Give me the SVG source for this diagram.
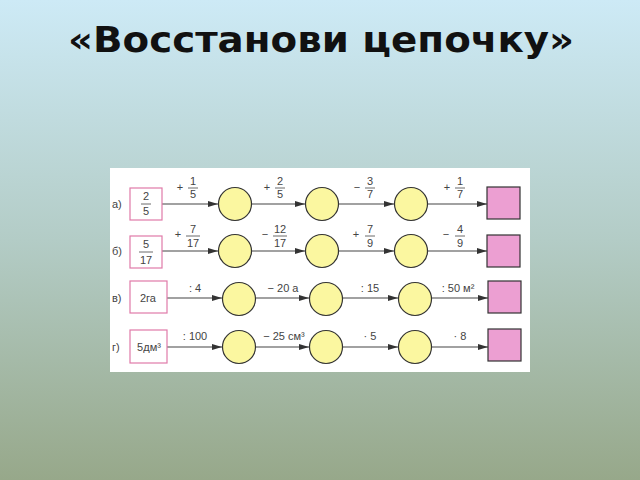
<svg xmlns="http://www.w3.org/2000/svg" width="640" height="480" viewBox="0 0 640 480">
<defs>
<linearGradient id="bg" x1="0" y1="0" x2="0" y2="1">
<stop offset="0" stop-color="#cdeaf6"/><stop offset="0.5" stop-color="#b3ccc6"/><stop offset="1" stop-color="#97a88a"/>
</linearGradient>
<marker id="ar" viewBox="0 0 10 6" refX="10" refY="3" markerWidth="10" markerHeight="6" orient="auto" markerUnits="userSpaceOnUse">
<path d="M0,0 L10,3 L0,6 z" fill="#333"/>
</marker>
<style>
text{font-family:"Liberation Sans",Arial,sans-serif;fill:#444}
.t{font-size:11px}
.s{fill:#fff;stroke:#e07aa8;stroke-width:1.2}
.c{fill:#fbf7a0;stroke:#333;stroke-width:1.2}
.f{fill:#ec9fd2;stroke:#333;stroke-width:1.2}
.l{stroke:#444;stroke-width:1.2;fill:none;marker-end:url(#ar)}
.b{stroke:#444;stroke-width:0.8}
</style>
</defs>
<rect width="640" height="480" fill="url(#bg)"/>
<text x="321" y="52" text-anchor="middle" textLength="506" lengthAdjust="spacingAndGlyphs" style="font-family:'DejaVu Sans',sans-serif;font-size:35px;font-weight:bold;fill:#111">«Восстанови цепочку»</text>
<rect x="110" y="168" width="420" height="204" fill="#fff"/>
<g id="connectors">
<path class="l" d="M162,204 H218"/><path class="l" d="M252,204 H305"/><path class="l" d="M339,204 H394"/><path class="l" d="M428,204 H487"/>
<path class="l" d="M162,251 H218"/><path class="l" d="M252,251 H305"/><path class="l" d="M339,251 H394"/><path class="l" d="M428,251 H487"/>
<path class="l" d="M167,298 H222"/><path class="l" d="M256,298 H309"/><path class="l" d="M343,298 H398"/><path class="l" d="M432,298 H488"/>
<path class="l" d="M167,347 H222"/><path class="l" d="M256,347 H309"/><path class="l" d="M343,347 H398"/><path class="l" d="M432,347 H488"/>
</g>
<g id="row-a">
<text class="t" x="112" y="208">а)</text>
<rect class="s" x="130" y="188" width="32" height="32"/>
<text class="t" x="146" y="200" text-anchor="middle">2</text><line class="b" x1="141" y1="204" x2="151" y2="204"/><text class="t" x="146" y="215" text-anchor="middle">5</text>
<circle class="c" cx="235" cy="204" r="16.5"/><circle class="c" cx="322" cy="204" r="16.5"/><circle class="c" cx="411" cy="204" r="16.5"/>
<rect class="f" x="487" y="187" width="33" height="32"/>
<text class="t" x="180" y="191" text-anchor="middle">+</text><text class="t" x="193" y="185" text-anchor="middle">1</text><line class="b" x1="188" y1="188" x2="198" y2="188"/><text class="t" x="193" y="198" text-anchor="middle">5</text>
<text class="t" x="267" y="191" text-anchor="middle">+</text><text class="t" x="280" y="185" text-anchor="middle">2</text><line class="b" x1="275" y1="188" x2="285" y2="188"/><text class="t" x="280" y="198" text-anchor="middle">5</text>
<text class="t" x="357" y="191" text-anchor="middle">−</text><text class="t" x="370" y="185" text-anchor="middle">3</text><line class="b" x1="365" y1="188" x2="375" y2="188"/><text class="t" x="370" y="198" text-anchor="middle">7</text>
<text class="t" x="447" y="191" text-anchor="middle">+</text><text class="t" x="460" y="185" text-anchor="middle">1</text><line class="b" x1="455" y1="188" x2="465" y2="188"/><text class="t" x="460" y="198" text-anchor="middle">7</text>
</g>
<g id="row-b">
<text class="t" x="112" y="255">б)</text>
<rect class="s" x="130" y="236" width="32" height="32"/>
<text class="t" x="146" y="248" text-anchor="middle">5</text><line class="b" x1="139" y1="252" x2="153" y2="252"/><text class="t" x="146" y="264" text-anchor="middle">17</text>
<circle class="c" cx="235" cy="251" r="16.5"/><circle class="c" cx="322" cy="251" r="16.5"/><circle class="c" cx="411" cy="251" r="16.5"/>
<rect class="f" x="487" y="235" width="33" height="32"/>
<text class="t" x="178" y="238" text-anchor="middle">+</text><text class="t" x="193" y="233" text-anchor="middle">7</text><line class="b" x1="186" y1="236" x2="200" y2="236"/><text class="t" x="193" y="247" text-anchor="middle">17</text>
<text class="t" x="265" y="238" text-anchor="middle">−</text><text class="t" x="280" y="233" text-anchor="middle">12</text><line class="b" x1="273" y1="236" x2="287" y2="236"/><text class="t" x="280" y="247" text-anchor="middle">17</text>
<text class="t" x="356" y="238" text-anchor="middle">+</text><text class="t" x="370" y="233" text-anchor="middle">7</text><line class="b" x1="365" y1="236" x2="375" y2="236"/><text class="t" x="370" y="247" text-anchor="middle">9</text>
<text class="t" x="446" y="238" text-anchor="middle">−</text><text class="t" x="460" y="233" text-anchor="middle">4</text><line class="b" x1="455" y1="236" x2="465" y2="236"/><text class="t" x="460" y="247" text-anchor="middle">9</text>
</g>
<g id="row-v">
<text class="t" x="112" y="302">в)</text>
<rect class="s" x="130" y="281" width="37" height="32"/>
<text class="t" x="148" y="302" text-anchor="middle">2га</text>
<circle class="c" cx="239" cy="299" r="16.5"/><circle class="c" cx="326" cy="299" r="16.5"/><circle class="c" cx="415" cy="299" r="16.5"/>
<rect class="f" x="488" y="281" width="33" height="32"/>
<text class="t" x="195" y="292" text-anchor="middle">: 4</text>
<text class="t" x="283" y="292" text-anchor="middle">− 20 а</text>
<text class="t" x="370" y="292" text-anchor="middle">: 15</text>
<text class="t" x="458" y="292" text-anchor="middle">: 50 м²</text>
</g>
<g id="row-g">
<text class="t" x="112" y="351">г)</text>
<rect class="s" x="130" y="330" width="37" height="33"/>
<text class="t" x="149" y="351" text-anchor="middle">5дм³</text>
<circle class="c" cx="239" cy="347" r="16.5"/><circle class="c" cx="326" cy="347" r="16.5"/><circle class="c" cx="415" cy="347" r="16.5"/>
<rect class="f" x="488" y="329" width="33" height="32"/>
<text class="t" x="195" y="340" text-anchor="middle">: 100</text>
<text class="t" x="284" y="340" text-anchor="middle">− 25 см³</text>
<text class="t" x="370" y="340" text-anchor="middle">· 5</text>
<text class="t" x="460" y="340" text-anchor="middle">· 8</text>
</g>
</svg>
